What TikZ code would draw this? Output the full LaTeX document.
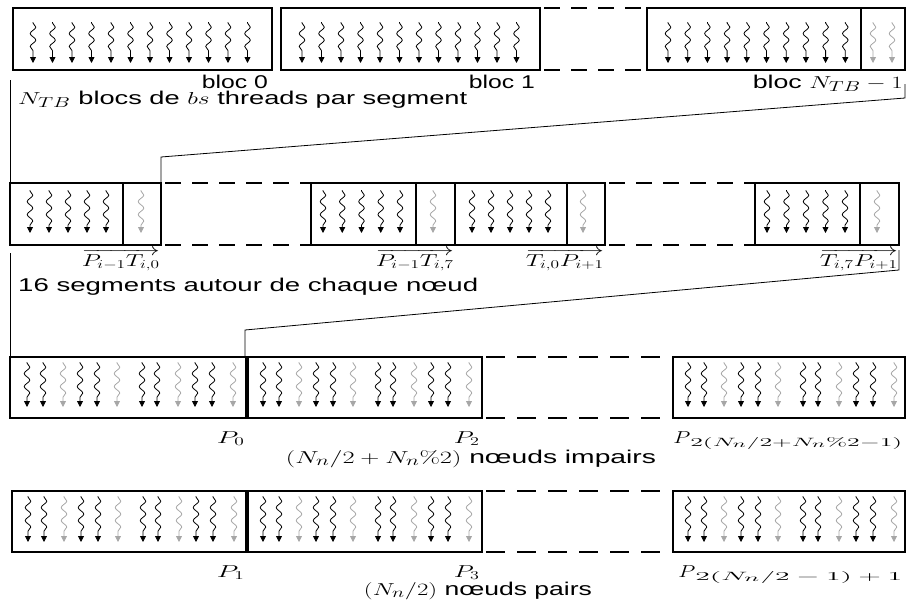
\documentclass[tikz,border=0pt]{standalone}
\usepackage[no-math]{fontspec}
\setmainfont{Liberation Sans}
\usepackage{graphicx}
\usetikzlibrary{decorations.pathmorphing,arrows.meta}
\DeclareMathSizes{16}{16}{13}{10}
\DeclareMathSizes{18.5}{18.5}{14}{11}
% stretch a text horizontally to a given width (in pt), keeping its height
\newcommand\wx[2]{\resizebox{#1pt}{\height}{#2}}
\tikzset{
  box/.style={draw, line width=1.6pt},
  divthick/.style={line width=3.4pt},
  gapa/.style={line width=1.6pt, dash pattern=on 16pt off 11pt},
  gapb/.style={line width=1.6pt, dash pattern=on 19pt off 12pt},
  zoomline/.style={line width=0.8pt},
  thr/.style={line width=0.8pt, decorate,
    decoration={snake, amplitude=2.8pt, segment length=13pt, pre length=1pt, post length=6pt},
    -{Triangle[length=6pt,width=6pt]}},
  thrk/.style={thr, draw=black},
  thrg/.style={thr, draw=black!35},
  lbl/.style={inner sep=0pt, font=\fontsize{18.5}{21}\selectfont},
  mlbl/.style={inner sep=0pt, font=\fontsize{16}{19}\selectfont},
}
\newcommand\nodethreads[3]{%
  \foreach \o/\cc in {17/k,33/k,53/g,70/k,87/k,107/g,132/k,147/k,168/g,185/k,202/k,223/g}
    \draw[thr\cc] ({#1+\o},#2) -- ({#1+\o},#3);
}
\begin{document}
\begin{tikzpicture}[x=1pt,y=-1pt]
\useasboundingbox (0,0) rectangle (906,613);

% ---------- row 1 : thread blocks ----------
\draw[box] (13,8) rectangle (272,70);
\draw[box] (281,8) rectangle (540,70);
\draw[box] (647,8) rectangle (905,70);
\draw[box] (861,8) -- (861,70);
\draw[gapa] (544,8) -- (647,8);
\draw[gapa] (544,70) -- (647,70);
\foreach \i in {0,...,11} {
  \draw[thrk] ({33+19.5*\i},22) -- ({33+19.5*\i},63);
  \draw[thrk] ({302+19.5*\i},22) -- ({302+19.5*\i},63);
}
\foreach \i in {0,...,9} \draw[thrk] ({668+19.7*\i},22) -- ({668+19.7*\i},63);
\foreach \xx in {873,892} \draw[thrg] (\xx,22) -- (\xx,63);

\node[lbl, anchor=base east] (l0) at (268,88) {\wx{66}{bloc 0}};
\node[lbl, anchor=base east] (l1) at (535,88) {\wx{66}{bloc 1}};
\node[lbl, anchor=base east] (lN) at (903,88) {\wx{150}{bloc $N_{TB}-1$}};
\node[lbl, anchor=base west] (t1) at (18,104) {\wx{449}{$N_{TB}$ blocs de $bs$ threads par segment}};

% zoom lines 1 -> 2
\coordinate (z1a) at (10,80);
\coordinate (z1b) at (10,183);
\coordinate (z1c) at (905,84);
\coordinate (z1d) at (905,98);
\coordinate (z1e) at (161,157);
\coordinate (z1f) at (161,183);
\draw[zoomline] (z1a) -- (z1b);
\draw[zoomline] (z1c) -- (z1d) -- (z1e) -- (z1f);

% ---------- row 2 : segments ----------
\draw[box] (10,183) rectangle (161,245);  \draw[box] (123,183) -- (123,245);
\draw[box] (311,183) rectangle (605,245); \draw[box] (455,183) -- (455,245);
\draw[box] (416,183) -- (416,245);        \draw[box] (567,183) -- (567,245);
\draw[box] (755,183) rectangle (899,245); \draw[box] (860,183) -- (860,245);
\draw[gapa] (165,183) -- (311,183);
\draw[gapa] (165,245) -- (311,245);
\draw[gapa] (609,183) -- (755,183);
\draw[gapa] (609,245) -- (755,245);
\foreach \i in {0,...,4} {
  \draw[thrk] ({30+19*\i},190) -- ({30+19*\i},233);
  \draw[thrk] ({323+19.25*\i},190) -- ({323+19.25*\i},233);
  \draw[thrk] ({472+19*\i},190) -- ({472+19*\i},233);
  \draw[thrk] ({767+19.5*\i},190) -- ({767+19.5*\i},233);
}
\foreach \xx in {141,433,583,877} \draw[thrg] (\xx,190) -- (\xx,233);

\node[mlbl, anchor=base east] (v1) at (160,266) {\wx{78}{$\overrightarrow{P_{i-1}T_{i,0}}$}};
\node[mlbl, anchor=base east] (v2) at (454,266) {\wx{78}{$\overrightarrow{P_{i-1}T_{i,7}}$}};
\node[mlbl, anchor=base east] (v3) at (604,266) {\wx{78}{$\overrightarrow{T_{i,0}P_{i+1}}$}};
\node[mlbl, anchor=base east] (v4) at (898,266) {\wx{78}{$\overrightarrow{T_{i,7}P_{i+1}}$}};
\node[lbl, anchor=base west] (t2) at (18,291) {\wx{460}{16 segments autour de chaque nœud}};

% zoom lines 2 -> 3
\coordinate (z2a) at (10,253);
\coordinate (z2b) at (10,357);
\coordinate (z2c) at (899,250);
\coordinate (z2d) at (899,270);
\coordinate (z2e) at (245,330);
\coordinate (z2f) at (245,357);
\draw[zoomline] (z2a) -- (z2b);
\draw[zoomline] (z2c) -- (z2d) -- (z2e) -- (z2f);

% ---------- rows 3 and 4 : nodes ----------
% row 3
\draw[box] (10,357) rectangle (482,418);
\draw[divthick] (247,357) -- (247,418);
\draw[box] (673,357) rectangle (905,418);
\draw[gapb] (486,357) -- (673,357);
\draw[gapb] (486,418) -- (673,418);
\nodethreads{10}{362}{407}
\nodethreads{246}{362}{407}
\nodethreads{671}{362}{407}
\node[mlbl, anchor=base east] (p0) at (245,443) {\wx{28}{$P_0$}};
\node[mlbl, anchor=base east] (p2) at (480,443) {\wx{26}{$P_2$}};
\node[mlbl, anchor=base east] (pa) at (903,443)
  {$\wx{17}{$P$}_{\wx{212}{$\scriptstyle 2(N_n/2+N_n\%2-1)$}}$};
\node[lbl, anchor=base] (t3) at (471,463) {\wx{370}{$(N_n/2+N_n\%2)$ nœuds impairs}};

% row 4
\draw[box] (12,491) rectangle (482,552);
\draw[divthick] (247,491) -- (247,552);
\draw[box] (673,491) rectangle (905,552);
\draw[gapb] (486,491) -- (673,491);
\draw[gapb] (486,552) -- (673,552);
\nodethreads{11}{496}{542}
\nodethreads{246}{496}{542}
\nodethreads{671}{496}{542}
\node[mlbl, anchor=base east] (p1) at (245,577) {\wx{28}{$P_1$}};
\node[mlbl, anchor=base east] (p3) at (480,577) {\wx{26}{$P_3$}};
\node[mlbl, anchor=base east] (pb) at (903,577)
  {$\wx{17}{$P$}_{\wx{207}{$\scriptstyle 2(N_n/2\:-\:1)\:+\:1$}}$};
\node[lbl, anchor=base] (t4) at (478,595) {\wx{228}{$(N_n/2)$ nœuds pairs}};
\end{tikzpicture}
\end{document}
